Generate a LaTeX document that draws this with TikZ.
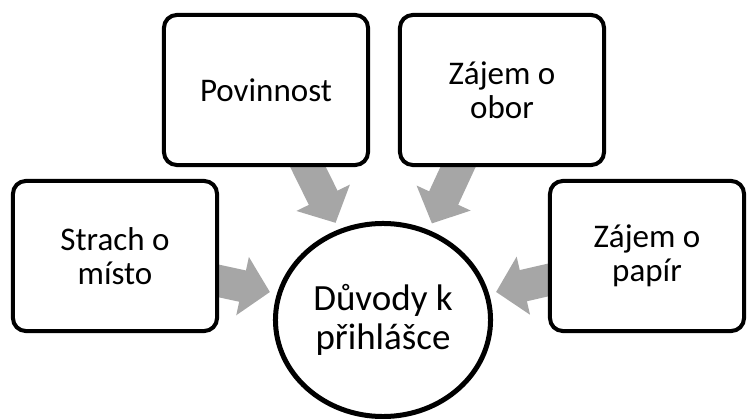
\documentclass[tikz,border=0pt]{standalone}
\usepackage{fontspec}
\setmainfont{Carlito}
\usetikzlibrary{arrows.meta,shapes.geometric,backgrounds}
\definecolor{sedasipka}{RGB}{166,166,166}

\begin{document}
\begin{tikzpicture}[x=0.025cm,y=-0.025cm,
  ramecek/.style={draw,fill=white,line width=0.1cm,rounded corners=0.32cm,minimum width=5.1cm,minimum height=3.75cm,align=center,font=\fontsize{23.5}{24.5}\selectfont},
  sipka/.style={sedasipka,line width=0.8cm,shorten <=-0.3cm,shorten >=0.18cm,-{Triangle[length=0.7cm,width=1.45cm]}}]
\useasboundingbox (0,0) rectangle (748,419);
\node[ramecek] (strach) at (115,256) {Strach o\\místo};
\node[ramecek] (povinnost) at (266,90) {Povinnost};
\node[ramecek] (obor) at (502,90) {Zájem o\\obor};
\node[ramecek,minimum width=4.85cm] (papir) at (647,256) {Zájem o\\papír};
\node[draw,fill=white,ellipse,line width=0.125cm,inner sep=0pt,minimum width=5.375cm,minimum height=4.825cm,align=center,font=\fontsize{26.3}{27.7}\selectfont] (duvody) at (383,320) {Důvody k\\přihlášce};

\begin{scope}[on background layer]
\draw [sipka] ([yshift=-0.625cm]strach.east) -- (duvody.166);
\draw [sipka] ([xshift=1.05cm]povinnost.south) -- (duvody.116);
\draw [sipka] ([xshift=-1.1cm]obor.south) -- (duvody.63);
\draw [sipka] ([yshift=-0.6cm]papir.west) -- (duvody.14);
\end{scope}
\end{tikzpicture}
\end{document}
